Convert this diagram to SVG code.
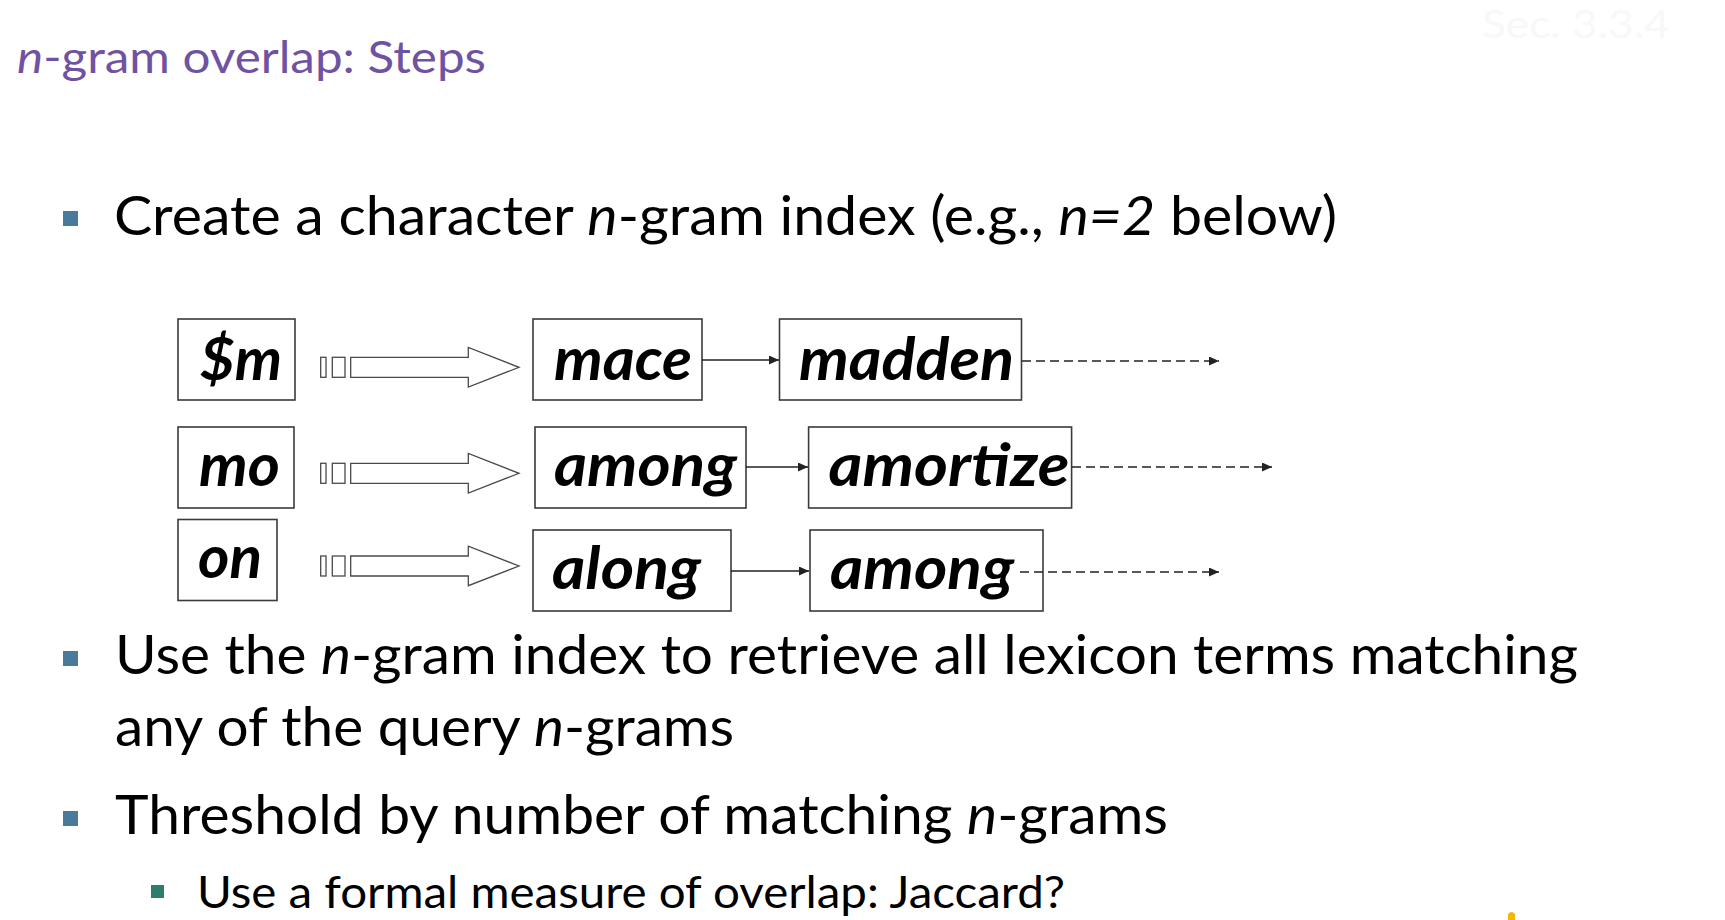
<svg xmlns="http://www.w3.org/2000/svg" width="1725" height="920" viewBox="0 0 1725 920">
<style>
.bg{fill:#ffffff}
.txt{font-family:Lato,"Open Sans","Liberation Sans",sans-serif;fill:#000}
.title{font-family:Lato,"Open Sans","Liberation Sans",sans-serif;fill:#7052A3;font-size:44px}
.main{font-size:54px}
.sub{font-size:45px}
.it{font-style:italic}
.box{fill:#fff;stroke:#3a3a3a;stroke-width:1.6}
.lbl{font-family:Lato,"Open Sans","Liberation Sans",sans-serif;font-weight:bold;font-style:italic;font-size:60px;fill:#000}
.blk{fill:#fff;stroke:#4a4a4a;stroke-width:1.3}
.con{stroke:#222;stroke-width:1.6;fill:none}
.dash{stroke-dasharray:9 5}
.b1{fill:#4A7A9B}
.b2{fill:#2E7D6A}
</style>
<defs>
<marker id="ah" markerUnits="userSpaceOnUse" markerWidth="10" markerHeight="9" refX="10" refY="4.5" orient="auto">
<path d="M0,0 L10,4.5 L0,9 z" fill="#222"/>
</marker>
</defs>
<rect class="bg" x="0" y="0" width="1725" height="920"/>

<text x="1482" y="38" font-family="Lato,'Liberation Sans',sans-serif" font-size="38" fill="#f8f8f8" textLength="188" lengthAdjust="spacingAndGlyphs">Sec. 3.3.4</text>

<text class="title" x="17" y="73" textLength="469" lengthAdjust="spacingAndGlyphs"><tspan class="it">n</tspan>-gram overlap: Steps</text>

<g id="bullet1">
<rect class="b1" x="63" y="211" width="15" height="15"/>
<text class="txt main" x="114" y="235" textLength="1223" lengthAdjust="spacingAndGlyphs">Create a character <tspan class="it">n</tspan>-gram index (e.g., <tspan class="it">n=2</tspan> below)</text>
</g>

<g id="arrow1">
<rect class="blk" x="320.7" y="357.3" width="5.3" height="20"/>
<rect class="blk" x="332.3" y="357.3" width="12.7" height="20"/>
<polygon class="blk" points="350.7,357.3 468.3,357.3 468.3,347.5 519,367.3 468.3,387 468.3,377.3 350.7,377.3"/>
</g>
<g id="arrow2">
<rect class="blk" x="320.7" y="463.3" width="5.3" height="20"/>
<rect class="blk" x="332.3" y="463.3" width="12.7" height="20"/>
<polygon class="blk" points="350.7,463.3 468.3,463.3 468.3,453.5 519,473.3 468.3,493 468.3,483.3 350.7,483.3"/>
</g>
<g id="arrow3">
<rect class="blk" x="320.7" y="556" width="5.3" height="20"/>
<rect class="blk" x="332.3" y="556" width="12.7" height="20"/>
<polygon class="blk" points="350.7,556 468.3,556 468.3,546.2 519,566 468.3,585.7 468.3,576 350.7,576"/>
</g>

<g id="node-sm">
<rect class="box" x="178" y="319" width="117" height="81"/>
<text class="lbl" x="200" y="380" textLength="82" lengthAdjust="spacingAndGlyphs">$m</text>
</g>
<g id="node-mace">
<rect class="box" x="533" y="319" width="169" height="81"/>
<text class="lbl" x="554" y="380" textLength="138" lengthAdjust="spacingAndGlyphs">mace</text>
</g>
<g id="node-madden">
<rect class="box" x="779.5" y="319" width="242" height="81"/>
<text class="lbl" x="799" y="380" textLength="215" lengthAdjust="spacingAndGlyphs">madden</text>
</g>

<g id="node-mo">
<rect class="box" x="178" y="427" width="116" height="81"/>
<text class="lbl" x="199" y="486" textLength="81" lengthAdjust="spacingAndGlyphs">mo</text>
</g>
<g id="node-among1">
<rect class="box" x="535" y="427" width="211" height="81"/>
<text class="lbl" x="554" y="486" textLength="183" lengthAdjust="spacingAndGlyphs">among</text>
</g>
<g id="node-amortize">
<rect class="box" x="808.6" y="427" width="263" height="81"/>
<text class="lbl" x="828.5" y="486" textLength="241" lengthAdjust="spacingAndGlyphs">amortize</text>
</g>

<g id="node-on">
<rect class="box" x="178" y="519.5" width="99" height="81"/>
<text class="lbl" x="198" y="578" textLength="64" lengthAdjust="spacingAndGlyphs">on</text>
</g>
<g id="node-along">
<rect class="box" x="533" y="530" width="198" height="81"/>
<text class="lbl" x="552" y="589" textLength="149" lengthAdjust="spacingAndGlyphs">along</text>
</g>
<g id="node-among2">
<rect class="box" x="810" y="530" width="233" height="81"/>
<text class="lbl" x="830" y="589" textLength="184" lengthAdjust="spacingAndGlyphs">among</text>
</g>

<g id="connectors">
<line class="con" x1="702" y1="360" x2="779" y2="360" marker-end="url(#ah)"/>
<line class="con" x1="746" y1="467" x2="808" y2="467" marker-end="url(#ah)"/>
<line class="con" x1="731" y1="571" x2="809" y2="571" marker-end="url(#ah)"/>
<line class="con dash" x1="1022" y1="361" x2="1219" y2="361" marker-end="url(#ah)"/>
<line class="con dash" x1="1072" y1="467" x2="1272" y2="467" marker-end="url(#ah)"/>
<line class="con dash" x1="1020" y1="572" x2="1219" y2="572" marker-end="url(#ah)"/>
</g>

<g id="bullet2">
<rect class="b1" x="63" y="651" width="15" height="15"/>
<text class="txt main" x="115" y="674" textLength="1463" lengthAdjust="spacingAndGlyphs">Use the <tspan class="it">n</tspan>-gram index to retrieve all lexicon terms matching</text>
<text class="txt main" x="115" y="746" textLength="619" lengthAdjust="spacingAndGlyphs">any of the query <tspan class="it">n</tspan>-grams</text>
</g>

<g id="bullet3">
<rect class="b1" x="63" y="811" width="15" height="15"/>
<text class="txt main" x="115" y="834" textLength="1053" lengthAdjust="spacingAndGlyphs">Threshold by number of matching <tspan class="it">n</tspan>-grams</text>
</g>

<g id="subbullet">
<rect class="b2" x="151" y="885" width="13" height="13"/>
<text class="txt sub" x="197" y="908" textLength="868" lengthAdjust="spacingAndGlyphs">Use a formal measure of overlap: Jaccard?</text>
</g>

<path d="M1508,920 L1508,914 Q1511.5,910 1515,914 L1515,920 z" fill="#F2B705"/>
</svg>
